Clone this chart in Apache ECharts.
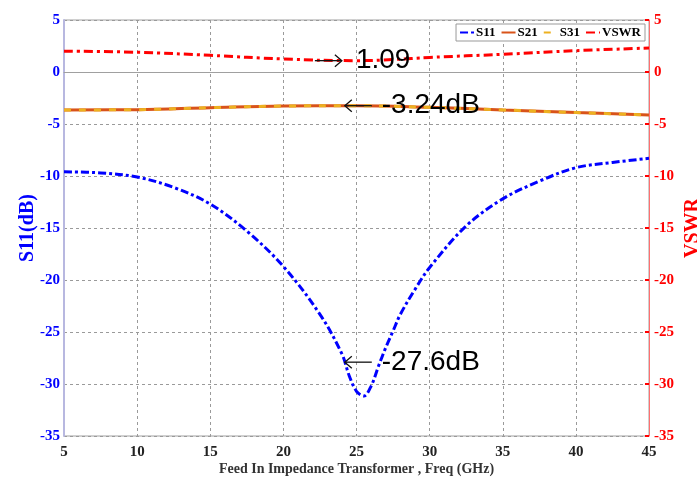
<!DOCTYPE html>
<html>
<head>
<meta charset="utf-8">
<script src="https://cdn.jsdelivr.net/npm/echarts@6/dist/echarts.min.js"></script>
<style>
html,body{margin:0;padding:0;background:#fff;}
#chart{width:697px;height:477px;}
</style>
</head>
<body>
<div id="chart"></div>
<script>
// ---- data ----
const yTicks = [-35, -30, -25, -20, -15, -10, -5, 0, 5];
const xTicks = [5, 10, 15, 20, 25, 30, 35, 40, 45];

const freqS11 = [5, 7.5, 10, 12.5, 15, 17.5, 20, 22.5, 24, 24.5, 25, 25.5, 26, 26.5, 27, 27.5, 28, 29, 30, 32.5, 35, 37.5, 40, 42.5, 45];
const s11 = [-9.6, -9.7, -10.1, -11.1, -12.7, -15.3, -18.7, -23.3, -27.1, -29.2, -30.7, -31.15, -30.2, -28.3, -26.5, -24.9, -23.3, -20.9, -18.8, -14.8, -12.2, -10.5, -9.2, -8.7, -8.3];

const freqS21 = [5, 10, 15, 20, 25, 30, 35, 40, 45];
const s21 = [-3.65, -3.62, -3.43, -3.27, -3.24, -3.4, -3.65, -3.9, -4.13];
const s31 = [-3.65, -3.62, -3.43, -3.27, -3.24, -3.4, -3.65, -3.9, -4.13];

const freqVSWR = [5, 10, 15, 20, 25, 27.5, 30, 35, 40, 45];
const vswr = [2.0, 1.9, 1.6, 1.25, 1.09, 1.2, 1.4, 1.7, 2.05, 2.3];

// annotations: text, yAxis index, arrow tip (freq, value), arrow direction
const annText = ['1.09', '-3.24dB', '-27.6dB'];
const annAxis = [1, 0, 0];
const annFreq = [24.0, 24.2, 24.2];
const annValue = [1.09, -3.24, -27.9];
const annDir = ['right', 'left', 'left'];

function pairs(xs, ys) { return xs.map((x, i) => [x, ys[i]]); }

const serif = '"Liberation Serif", "DejaVu Serif", serif';
const chart = echarts.init(document.getElementById('chart'), null, {renderer: 'canvas'});

const option = {
  backgroundColor: '#fff',
  animation: false,
  grid: {left: 64, right: 48, top: 20, bottom: 41, show: true, borderColor: '#a0a0a0', borderWidth: 1,
         containLabel: false, outerBoundsMode: 'none'},
  legend: {
    right: 52, top: 24,
    itemWidth: 14, itemHeight: 10, itemGap: 5,
    padding: [2, 4, 2, 3],
    borderColor: '#999', borderWidth: 1, backgroundColor: '#fff',
    itemStyle: {color: 'rgba(0,0,0,0)', borderWidth: 0, opacity: 0},
    textStyle: {fontFamily: serif, fontWeight: 'bold', fontSize: 13, color: '#000', padding: [0, 0, 0, -3]},
    data: ['S11', 'S21', 'S31', 'VSWR']
  },
  xAxis: {
    type: 'value', min: xTicks[0], max: xTicks[xTicks.length - 1], interval: 5,
    name: 'Feed In Impedance Transformer , Freq (GHz)',
    nameLocation: 'middle', nameGap: 26, nameMoveOverlap: false,
    nameTextStyle: {fontFamily: serif, fontWeight: 'bold', fontSize: 14, color: '#333'},
    axisLine: {lineStyle: {color: '#a0a0a0', width: 1}},
    axisTick: {show: false},
    axisLabel: {fontFamily: serif, fontWeight: 'bold', fontSize: 15, color: '#222', margin: 9},
    splitLine: {show: true, lineStyle: {color: '#9a9a9a', type: [3, 3], width: 1}}
  },
  yAxis: [
    {
      type: 'value', min: yTicks[0], max: yTicks[yTicks.length - 1], interval: 5, position: 'left',
      name: 'S11(dB)', nameLocation: 'middle', nameGap: 26, nameRotate: 90, nameMoveOverlap: false,
      nameTextStyle: {fontFamily: serif, fontWeight: 'bold', fontSize: 20, color: '#0000ff'},
      axisLine: {show: true, lineStyle: {color: '#b8b8e0', width: 2}},
      axisTick: {show: false},
      axisLabel: {fontFamily: serif, fontWeight: 'bold', fontSize: 15, color: '#0000ff', margin: 4},
      splitLine: {show: true, lineStyle: {color: '#9a9a9a', type: [3, 3], width: 1}}
    },
    {
      type: 'value', min: yTicks[0], max: yTicks[yTicks.length - 1], interval: 5, position: 'right',
      name: 'VSWR', nameLocation: 'middle', nameGap: 34, nameRotate: 90, nameMoveOverlap: false,
      nameTextStyle: {fontFamily: serif, fontWeight: 'bold', fontSize: 20, color: '#ff0000'},
      axisLine: {show: true, lineStyle: {color: '#ff7070', width: 1}},
      axisTick: {show: true, inside: true, length: 4, lineStyle: {color: '#ff0000', width: 2}},
      axisLabel: {fontFamily: serif, fontWeight: 'bold', fontSize: 15, color: '#ff0000', margin: 5},
      splitLine: {show: false}
    }
  ],
  series: [
    {
      name: 'S11', type: 'line', yAxisIndex: 0, data: pairs(freqS11, s11),
      showSymbol: false, symbol: 'none', smooth: 0.35, z: 5,
      lineStyle: {color: '#0000ff', width: 3, type: [8, 3, 3, 3]},
      itemStyle: {color: '#0000ff'}
    },
    {
      name: 'S21', type: 'line', yAxisIndex: 0, data: pairs(freqS21, s21),
      showSymbol: false, symbol: 'none', smooth: 0.4, z: 3,
      lineStyle: {color: '#d95319', width: 3, type: 'solid'},
      itemStyle: {color: '#d95319'}
    },
    {
      name: 'S31', type: 'line', yAxisIndex: 0, data: pairs(freqS21, s31),
      showSymbol: false, symbol: 'none', smooth: 0.4, z: 4,
      lineStyle: {color: '#edb120', width: 3, type: [7, 8]},
      itemStyle: {color: '#edb120'}
    },
    {
      name: 'VSWR', type: 'line', yAxisIndex: 1, data: pairs(freqVSWR, vswr),
      showSymbol: false, symbol: 'none', smooth: 0.4, z: 5,
      lineStyle: {color: '#ff0000', width: 3, type: [9, 4, 3, 4]},
      itemStyle: {color: '#ff0000'}
    }
  ]
};
chart.setOption(option);

// annotations anchored in data coordinates
const graphics = [];
const arrowLen = 27;
annText.forEach((t, i) => {
  const p = chart.convertToPixel({xAxisIndex: 0, yAxisIndex: annAxis[i]}, [annFreq[i], annValue[i]]);
  const tx = p[0], ty = p[1];
  let x1, x2, head, textX;
  if (annDir[i] === 'right') {
    x1 = tx - arrowLen; x2 = tx;
    head = [[tx - 7, ty - 6], [tx, ty], [tx - 7, ty + 6]];
    textX = tx + 14;
  } else {
    x1 = tx; x2 = tx + arrowLen;
    head = [[tx + 7, ty - 6], [tx, ty], [tx + 7, ty + 6]];
    textX = tx + 37;
  }
  graphics.push({type: 'line', z: 100, shape: {x1: x1, y1: ty, x2: x2, y2: ty}, style: {stroke: '#111', lineWidth: 1.3}});
  graphics.push({type: 'polyline', z: 100, shape: {points: head}, style: {stroke: '#111', lineWidth: 1.3, fill: null}});
  graphics.push({type: 'text', z: 100, x: textX, y: ty, style: {text: t, font: '28px "Liberation Sans", Arial, sans-serif', fill: '#000', textAlign: 'left', textVerticalAlign: 'middle'}});
});
chart.setOption({graphic: graphics});
</script>
</body>
</html>
